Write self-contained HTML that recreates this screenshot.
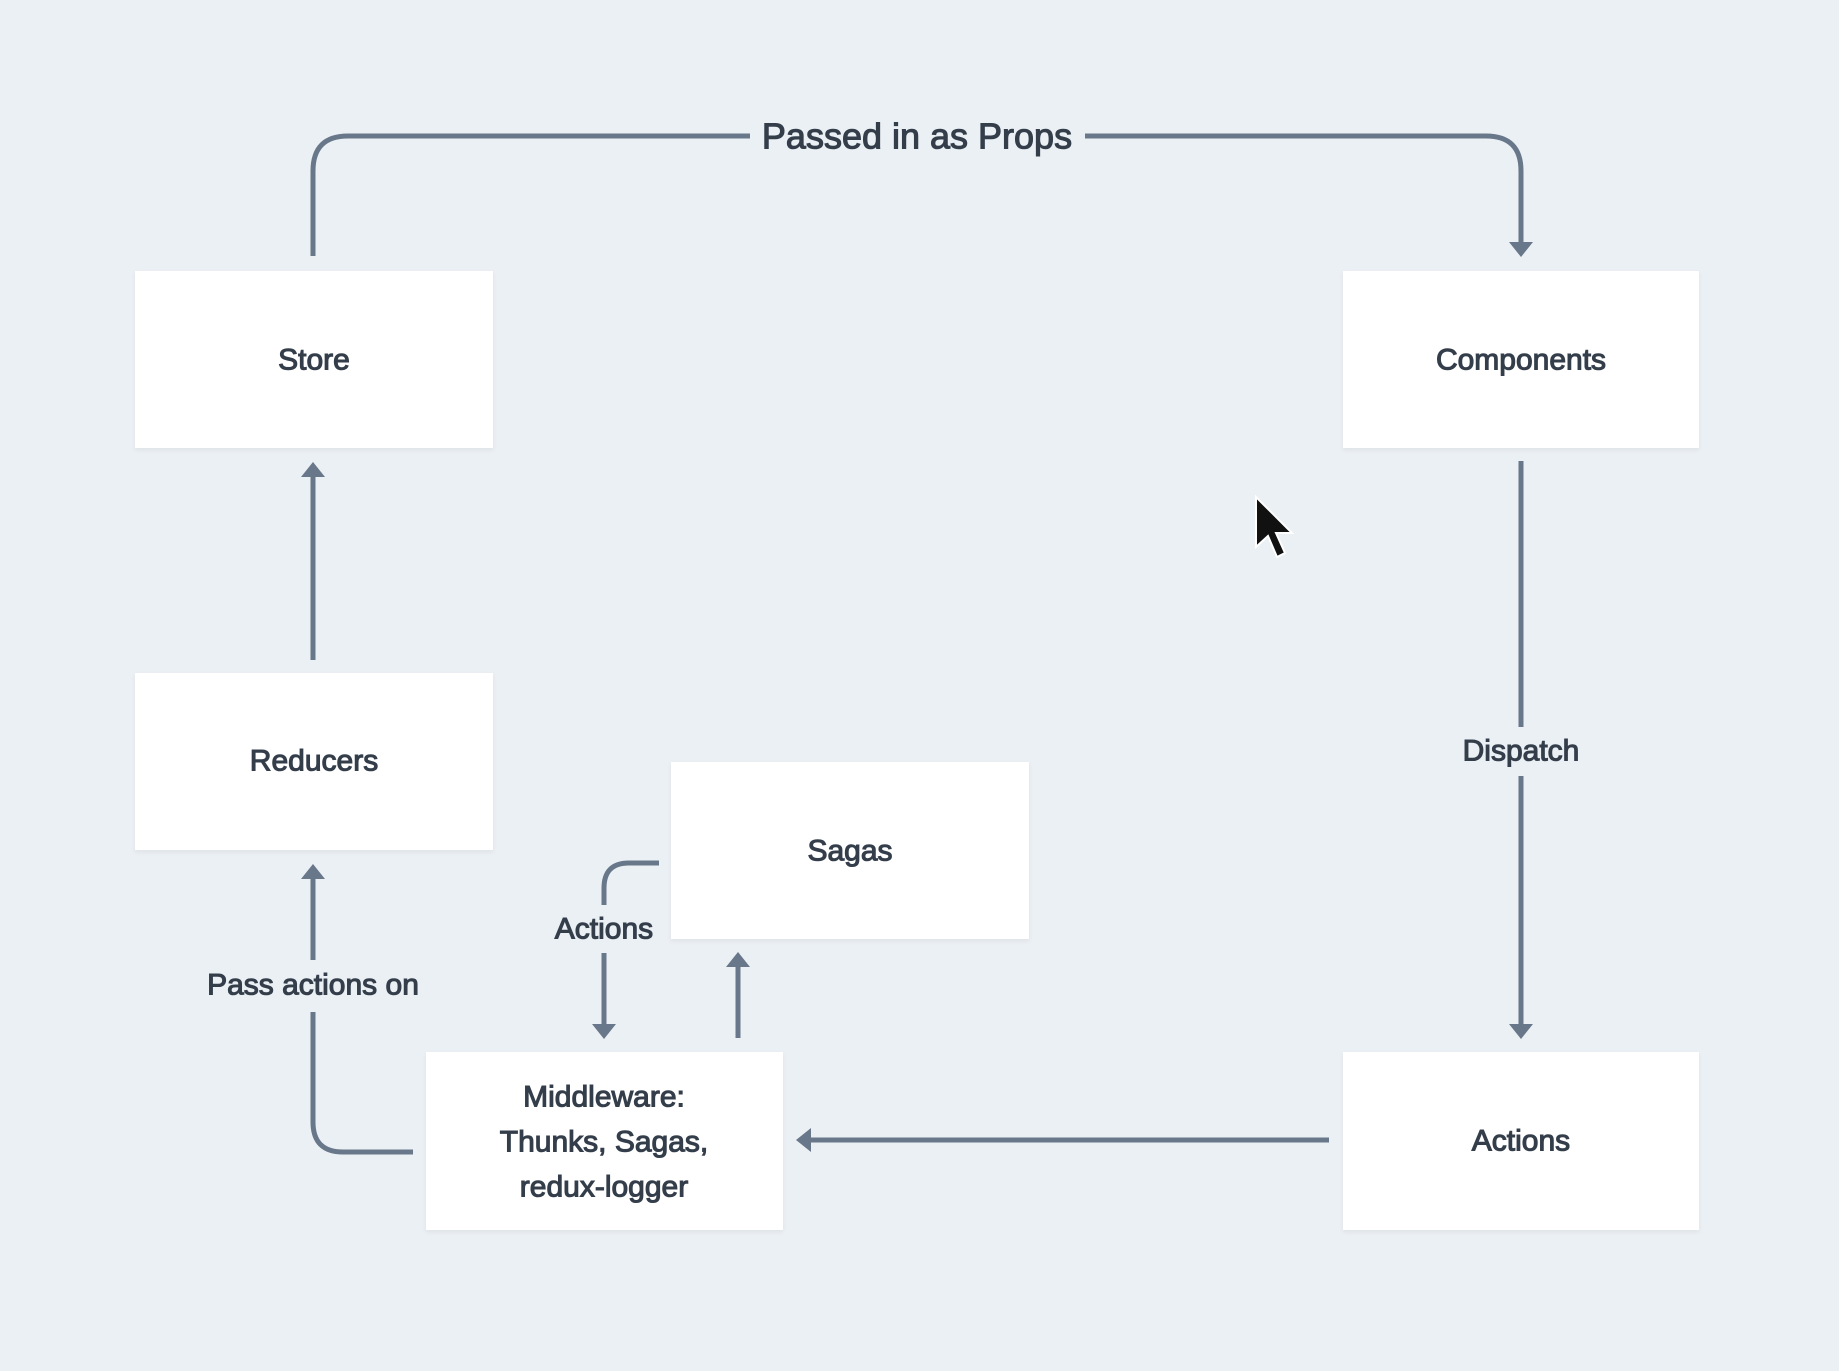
<!DOCTYPE html>
<html><head><meta charset="utf-8"><style>
html,body{margin:0;padding:0;background:#ebf0f4;}
svg{display:block;}
text{font-family:"Liberation Sans",sans-serif;fill:#343e4b;stroke:#343e4b;stroke-width:1.1;text-anchor:middle;dominant-baseline:central;}
</style></head><body>
<svg width="1839" height="1371" viewBox="0 0 1839 1371" xmlns="http://www.w3.org/2000/svg">
<defs>
<filter id="sh" x="-5%" y="-5%" width="110%" height="115%"><feDropShadow dx="0" dy="2" stdDeviation="2" flood-color="#000" flood-opacity="0.06"/></filter>
</defs>
<rect width="1839" height="1371" fill="#ebf0f4"/>
<g fill="#fff" filter="url(#sh)">
<rect x="135" y="271" width="358" height="177"/>
<rect x="1343" y="271" width="356" height="177"/>
<rect x="135" y="673" width="358" height="177"/>
<rect x="671" y="762" width="358" height="177"/>
<rect x="426" y="1052" width="357" height="178"/>
<rect x="1343" y="1052" width="356" height="178"/>
</g>
<g fill="none" stroke="#687789" stroke-width="5">
<path d="M313 256 V171 Q313 136 348 136 H750"/>
<path d="M1085 136 H1486 Q1521 136 1521 171 V245"/>
<path d="M313 660 V474"/>
<path d="M1521 461 V727"/>
<path d="M1521 776 V1027"/>
<path d="M1329 1140 H808"/>
<path d="M413 1152 H343 Q313 1152 313 1122 V1012"/>
<path d="M313 960 V876"/>
<path d="M659 863 H629 Q604 863 604 888 V905"/>
<path d="M604 953 V1027"/>
<path d="M738 1038 V964"/>
</g>
<g fill="#687789">
<path d="M1509 242 L1533 242 L1521 257 Z"/>
<path d="M301 477 L325 477 L313 462 Z"/>
<path d="M1509 1024 L1533 1024 L1521 1039 Z"/>
<path d="M811 1128 L811 1152 L796 1140 Z"/>
<path d="M301 879 L325 879 L313 864 Z"/>
<path d="M592 1024 L616 1024 L604 1039 Z"/>
<path d="M726 967 L750 967 L738 952 Z"/>
</g>
<text x="917" y="136" font-size="36">Passed in as Props</text>
<text x="314" y="360" font-size="30">Store</text>
<text x="1521" y="360" font-size="30">Components</text>
<text x="314" y="761" font-size="30">Reducers</text>
<text x="850" y="851" font-size="30">Sagas</text>
<text x="1521" y="751" font-size="30">Dispatch</text>
<text x="1521" y="1141" font-size="30">Actions</text>
<text x="604" y="929" font-size="30">Actions</text>
<text x="313" y="985" font-size="30">Pass actions on</text>
<text x="604" y="1097" font-size="30">Middleware:</text>
<text x="604" y="1142" font-size="30">Thunks, Sagas,</text>
<text x="604" y="1187" font-size="30">redux-logger</text>
<path d="M1256 497 L1256 547 L1268 536 L1277 557 L1285 553 L1276 533 L1292 533 Z" fill="#111" stroke="#fff" stroke-width="2"/>
</svg>
</body></html>
